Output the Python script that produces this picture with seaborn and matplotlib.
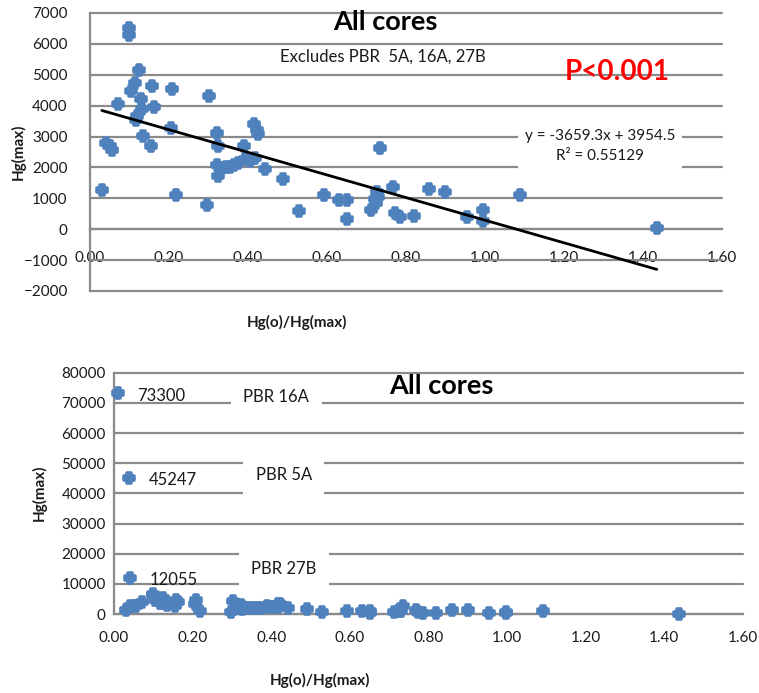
import matplotlib
matplotlib.use("Agg")
import matplotlib.pyplot as plt
import seaborn as sns
import numpy as np
import pandas as pd

# ---------------- data ----------------
ratio = [0.03, 0.04, 0.05, 0.055, 0.07, 0.10, 0.10, 0.105, 0.115, 0.125,
         0.13, 0.133, 0.12, 0.117, 0.135, 0.157, 0.163, 0.154, 0.209, 0.205,
         0.218, 0.297, 0.302, 0.322, 0.325, 0.321, 0.325, 0.335, 0.345, 0.355,
         0.365, 0.375, 0.393, 0.39, 0.405, 0.418, 0.416, 0.422, 0.426, 0.443,
         0.49, 0.53, 0.593, 0.63, 0.65, 0.65, 0.712, 0.722, 0.725, 0.727,
         0.73, 0.735, 0.768, 0.773, 0.785, 0.82, 0.86, 0.90, 0.955, 0.996,
         0.996, 1.09, 1.436]
hgmax = [1260, 2780, 2680, 2580, 4050, 6500, 6280, 4480, 4750, 5150,
         4230, 3900, 3680, 3520, 3020, 4650, 3960, 2680, 4550, 3280,
         1120, 770, 4310, 3120, 2680, 2080, 1720, 1990, 2010, 2030,
         2080, 2140, 2260, 2700, 2200, 2300, 3400, 3200, 3080, 1960,
         1610, 590, 1110, 940, 960, 340, 610, 980, 850, 1200,
         1050, 2620, 1360, 530, 380, 440, 1290, 1210, 380, 610,
         270, 1120, 30]

out_ratio = [0.01, 0.038, 0.04]
out_hgmax = [73300, 45247, 12055]
out_labels = ["73300", "45247", "12055"]
out_cores = ["PBR 16A", "PBR 5A", "PBR 27B"]

slope, intercept, r2 = -3659.3, 3954.5, 0.55129

x_ticks = [0.00, 0.20, 0.40, 0.60, 0.80, 1.00, 1.20, 1.40, 1.60]
y_ticks_top = [-2000, -1000, 0, 1000, 2000, 3000, 4000, 5000, 6000, 7000]
y_ticks_bot = [0, 10000, 20000, 30000, 40000, 50000, 60000, 70000, 80000]

main = pd.DataFrame({"ratio": ratio, "hgmax": hgmax})
allpts = pd.DataFrame({"ratio": ratio + out_ratio, "hgmax": hgmax + out_hgmax})

# ---------------- style ----------------
sns.set_style("white")
plt.rcParams["font.family"] = ["Lato", "DejaVu Sans"]
GRID = "#8a8a8a"
BLUE = "#4F81BD"
TXT = "#1a1a1a"

W, H = 759, 693
fig = plt.figure(figsize=(W / 100, H / 100), dpi=100)

def px_axes(l, t, r, b):
    return fig.add_axes([l / W, 1 - b / H, (r - l) / W, (b - t) / H])

def style_axes(ax, yticks):
    ax.set_yticks(yticks)
    ax.set_xticks(x_ticks)
    ax.xaxis.set_major_formatter(matplotlib.ticker.FormatStrFormatter("%.2f"))
    ax.yaxis.grid(True, color=GRID, lw=1.6)
    ax.xaxis.grid(False)
    for gl in ax.get_ygridlines():
        gl.set_clip_on(False)
    for s in ["top", "right"]:
        ax.spines[s].set_visible(False)
    for s in ["left", "bottom"]:
        ax.spines[s].set_color(GRID)
        ax.spines[s].set_linewidth(1.6)
    ax.tick_params(axis="both", direction="out", length=4, width=1.4,
                   color=GRID, labelcolor=TXT, labelsize=11)
    ax.set_xlabel("")
    ax.set_ylabel("")

marker_kw = dict(marker="P", s=60, color=BLUE, edgecolor=BLUE, linewidth=2.6,
                 clip_on=False, zorder=3)

# ---------------- top panel ----------------
ax1 = px_axes(90, 13, 721.5, 291)
sns.scatterplot(data=main, x="ratio", y="hgmax", ax=ax1, **marker_kw)
xs = np.array([min(ratio), max(ratio)])
ax1.plot(xs, slope * xs + intercept, color="black", lw=2, zorder=4)
ax1.set_xlim(0, 1.6)
ax1.set_ylim(-2000, 7000)
style_axes(ax1, y_ticks_top)
ax1.spines["bottom"].set_position(("data", 0))
ax1.tick_params(axis="x", pad=12)
ax1.tick_params(axis="y", pad=12)

ax1.text(0.467, 0.968, "All cores", transform=ax1.transAxes, ha="center",
         va="center", fontsize=19.5, fontweight="bold", color="black")
ax1.text(0.464, 0.842, "Excludes PBR  5A, 16A, 27B", transform=ax1.transAxes,
         ha="center", va="center", fontsize=12, color=TXT)
ax1.text(0.835, 0.788, "P<0.001", transform=ax1.transAxes, ha="center",
         va="center", fontsize=20, fontweight="bold", color="#ff0000")
ax1.text(0.808, 0.522, f"y = {slope}x + {intercept}\nR² = {r2}",
         transform=ax1.transAxes, ha="center", va="center", fontsize=11,
         color=TXT, linespacing=1.5,
         bbox=dict(boxstyle="square,pad=0.45", fc="white", ec="none"), zorder=5)

fig.text(297 / W, 1 - 322 / H, "Hg(o)/Hg(max)", ha="center", va="center",
         fontsize=11, fontweight="bold", color=TXT)
fig.text(18 / W, 1 - 152 / H, "Hg(max)", ha="center", va="center",
         rotation=90, fontsize=11, fontweight="bold", color=TXT)

# ---------------- bottom panel ----------------
ax2 = px_axes(114, 372.7, 743, 614)
sns.scatterplot(data=allpts, x="ratio", y="hgmax", ax=ax2, **marker_kw)
ax2.set_xlim(0, 1.6)
ax2.set_ylim(0, 80000)
style_axes(ax2, y_ticks_bot)
ax2.tick_params(axis="x", pad=8)
ax2.tick_params(axis="y", pad=2)

for xv, yv, lab in zip(out_ratio, out_hgmax, out_labels):
    ax2.annotate(lab, (xv, yv), xytext=(14, -2), textcoords="offset points",
                 ha="left", va="center", fontsize=12, color=TXT, zorder=5)

core_pos = [(0.258, 0.899), (0.270, 0.576), (0.270, 0.186)]
for (xf, yf), lab in zip(core_pos, out_cores):
    ax2.text(xf, yf, lab, transform=ax2.transAxes, ha="center", va="center",
             fontsize=12, color=TXT,
             bbox=dict(boxstyle="square,pad=0.75", fc="white", ec="none"),
             zorder=5)

ax2.text(0.521, 0.945, "All cores", transform=ax2.transAxes, ha="center",
         va="center", fontsize=19.5, fontweight="bold", color="black")

fig.text(320 / W, 1 - 680 / H, "Hg(o)/Hg(max)", ha="center", va="center",
         fontsize=11, fontweight="bold", color=TXT)
fig.text(39 / W, 1 - 493 / H, "Hg(max)", ha="center", va="center",
         rotation=90, fontsize=11, fontweight="bold", color=TXT)

fig.savefig("out.png", dpi=100, facecolor="white")
